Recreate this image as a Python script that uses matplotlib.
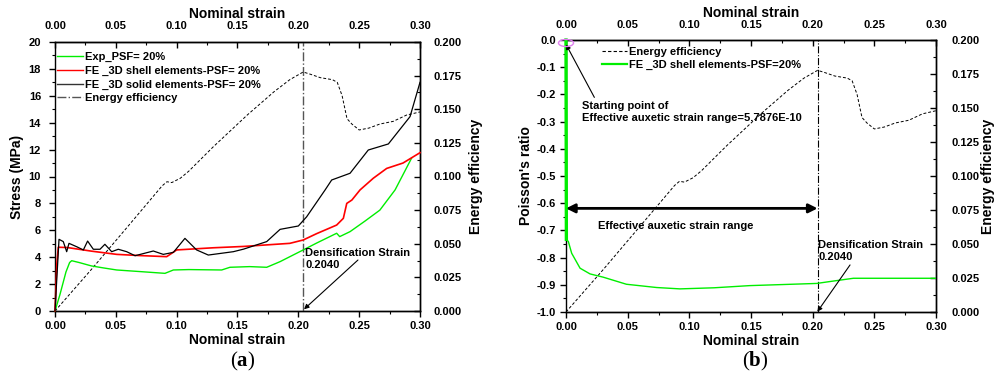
import numpy as np
import matplotlib
matplotlib.use("Agg")
import matplotlib.pyplot as plt
from matplotlib.patches import Ellipse
from matplotlib.lines import Line2D

plt.rcParams["font.family"] = ["Liberation Sans", "DejaVu Sans"]
plt.rcParams["font.weight"] = "bold"
plt.rcParams["axes.labelweight"] = "bold"
plt.rcParams["mathtext.fontset"] = "custom"
plt.rcParams["mathtext.rm"] = "Liberation Serif"
plt.rcParams["mathtext.bf"] = "Liberation Serif:bold"

# --------------------------------------------------
# data
# --------------------------------------------------
# energy efficiency (same curve in both panels)
ee_strain = [0.000, 0.030, 0.060, 0.088, 0.092, 0.096, 0.103, 0.110, 0.130, 0.158,
             0.180, 0.193, 0.204, 0.210, 0.218, 0.228, 0.232, 0.236, 0.240, 0.244,
             0.250, 0.258, 0.267, 0.278, 0.289, 0.300]
ee_value = [0.000, 0.031, 0.063, 0.093, 0.0961, 0.0955, 0.0987, 0.104, 0.122, 0.1457,
            0.163, 0.172, 0.1777, 0.176, 0.1735, 0.172, 0.170, 0.160, 0.143, 0.139,
            0.1346, 0.136, 0.139, 0.141, 0.1457, 0.148]

# (a) experiment
exp_strain = [0.000, 0.004, 0.009, 0.012, 0.0137, 0.020, 0.030, 0.040, 0.0507, 0.070,
              0.0904, 0.0973, 0.110, 0.137, 0.1438, 0.160, 0.174, 0.185, 0.204, 0.215,
              0.2315, 0.234, 0.2425, 0.255, 0.267, 0.2795, 0.293]
exp_stress = [0.0, 1.2, 2.9, 3.6, 3.74, 3.6, 3.35, 3.2, 3.05, 2.93,
              2.80, 3.05, 3.08, 3.05, 3.25, 3.30, 3.25, 3.67, 4.54, 5.05,
              5.78, 5.53, 5.9, 6.7, 7.5, 9.0, 11.35]

# (a) FE 3D shell
shell_strain = [0.000, 0.0015, 0.0027, 0.010, 0.030, 0.0507, 0.070, 0.0918, 0.100, 0.130,
                0.155, 0.193, 0.204, 0.215, 0.2315, 0.237, 0.2398, 0.244, 0.2507, 0.2616,
                0.2726, 0.286, 0.300]
shell_stress = [0.0, 3.5, 4.74, 4.72, 4.45, 4.21, 4.12, 4.04, 4.54, 4.70,
                4.80, 5.03, 5.28, 5.75, 6.39, 6.89, 8.0, 8.25, 9.0, 9.87,
                10.6, 11.0, 11.77]

# (a) FE 3D solid
solid_strain = [0.000, 0.0033, 0.0068, 0.0096, 0.0115, 0.0178, 0.0233, 0.0268, 0.0315, 0.037,
                0.041, 0.0466, 0.052, 0.0589, 0.0658, 0.0808, 0.089, 0.0973, 0.1068, 0.1164,
                0.126, 0.1466, 0.155, 0.174, 0.185, 0.200, 0.2068, 0.222, 0.2274, 0.2425,
                0.2575, 0.274, 0.2918, 0.300]
solid_stress = [0.0, 5.33, 5.16, 4.41, 5.03, 4.78, 4.54, 5.2, 4.59, 4.59,
                4.96, 4.41, 4.59, 4.41, 4.11, 4.46, 4.21, 4.36, 5.40, 4.54,
                4.16, 4.41, 4.60, 5.16, 6.07, 6.32, 7.0, 9.0, 9.74, 10.24,
                11.97, 12.42, 14.45, 17.0]

# (b) Poisson's ratio, FE 3D shell
pr_strain = [0.000, 0.0003, 0.0019, 0.0046, 0.0114, 0.0195, 0.0302, 0.049, 0.0735, 0.0924,
             0.120, 0.149, 0.2033, 0.214, 0.233, 0.300]
pr_value = [0.000, -0.733, -0.741, -0.784, -0.839, -0.86, -0.872, -0.898, -0.91, -0.915,
            -0.911, -0.903, -0.895, -0.888, -0.876, -0.876]

dens_strain = 0.204
auxetic_start = 5.7876e-10

strain_ticks = [0.00, 0.05, 0.10, 0.15, 0.20, 0.25, 0.30]
ee_ticks = [0.000, 0.025, 0.050, 0.075, 0.100, 0.125, 0.150, 0.175, 0.200]
stress_ticks = [0, 2, 4, 6, 8, 10, 12, 14, 16, 18, 20]
pr_ticks = [-1.0, -0.9, -0.8, -0.7, -0.6, -0.5, -0.4, -0.3, -0.2, -0.1, 0.0]
pr_labels = ["-1.0", "-0.9", "-0.8", "-0.7", "-0.6", "-0.5", "-0.4", "-0.3", "-0.2", "-0.1", "0.0"]

GREEN = "#00ee00"
TICK_FS = 8
LAB_FS = 10
TXT_FS = 8


def style_axes(ax, ax_r, left_pad, top_pad, right_pad):
    for a in (ax, ax_r):
        for s in a.spines.values():
            s.set_linewidth(1.0)
    # keep the left spine on the main axes so curves can sit on top of it
    ax_r.spines["left"].set_visible(False)
    ax.set_xlim(0, 0.30)
    ax.set_xticks(strain_ticks)
    ax.set_xticks(np.arange(0.025, 0.30, 0.05), minor=True)
    ax.tick_params(axis="x", which="both", direction="out", labelsize=TICK_FS, pad=3.5)
    ax.tick_params(axis="y", which="both", direction="out", labelsize=TICK_FS, pad=left_pad)
    ax.tick_params(which="major", length=4, width=1)
    ax.tick_params(which="minor", length=2.5, width=0.8)
    ax.set_xlabel("Nominal strain", fontsize=LAB_FS, labelpad=1)

    top = ax.secondary_xaxis("top")
    top.set_xticks(strain_ticks)
    top.set_xticks(np.arange(0.025, 0.30, 0.05), minor=True)
    top.tick_params(which="both", direction="in", labelsize=TICK_FS, pad=top_pad)
    top.tick_params(which="major", length=4, width=1)
    top.tick_params(which="minor", length=2.5, width=0.8)
    top.set_xlabel("Nominal strain", fontsize=LAB_FS, labelpad=2)
    top.xaxis.set_major_formatter(plt.FormatStrFormatter("%.2f"))

    ax_r.set_ylim(0, 0.2)
    ax_r.set_yticks(ee_ticks)
    ax_r.set_yticks(np.arange(0.0125, 0.2, 0.025), minor=True)
    ax_r.tick_params(which="both", direction="in", labelsize=TICK_FS, pad=right_pad)
    ax_r.tick_params(which="major", length=4, width=1)
    ax_r.tick_params(which="minor", length=2.5, width=0.8)
    ax_r.yaxis.set_major_formatter(plt.FormatStrFormatter("%.3f"))
    ax.xaxis.set_major_formatter(plt.FormatStrFormatter("%.2f"))


fig = plt.figure(figsize=(9.95, 3.79), dpi=100)

# --------------------------------------------------
# (a) stress vs strain
# --------------------------------------------------
ax = fig.add_axes([55 / 995, 1 - 311 / 379, 365 / 995, 269 / 379])
ax2 = ax.twinx()
ax.set_zorder(ax2.get_zorder() + 1)
ax.patch.set_visible(False)
style_axes(ax, ax2, left_pad=6, top_pad=8, right_pad=10)

ax2.plot(ee_strain, ee_value, color="black", lw=0.7, ls=(0, (3, 2)))
ax.plot(exp_strain, exp_stress, color=GREEN, lw=1.0, zorder=3, clip_on=False)
ax.plot(shell_strain, shell_stress, color="red", lw=1.2, zorder=3, clip_on=False)
ax.plot(solid_strain, solid_stress, color="black", lw=0.9, zorder=3, clip_on=False)
ax.axvline(dens_strain, color="#555555", lw=1.0, ls="-.")

ax.set_ylim(0, 20)
ax.set_yticks(stress_ticks)
ax.set_yticks(range(1, 20, 2), minor=True)
ax.set_ylabel("Stress (MPa)", fontsize=LAB_FS, labelpad=3)
ax2.set_ylabel("Energy efficiency", fontsize=LAB_FS, labelpad=5)

handles_a = [
    Line2D([], [], color=GREEN, lw=1.0),
    Line2D([], [], color="red", lw=1.0),
    Line2D([], [], color="#333333", lw=1.0),
    Line2D([], [], color="#555555", lw=1.0, ls="-."),
]
labels_a = ["Exp_PSF= 20%", "FE _3D shell elements-PSF= 20%",
            "FE _3D solid elements-PSF= 20%", "Energy efficiency"]
ax.legend(handles_a, labels_a, loc="upper left", bbox_to_anchor=(0.005, 0.962),
          frameon=False, fontsize=TXT_FS, handlelength=2.4, handletextpad=0.15,
          labelspacing=0.32, borderpad=0, borderaxespad=0)

ax.text(0.2055, 4.7, "Densification Strain\n0.2040", fontsize=TXT_FS, va="top",
        ha="left", linespacing=1.3)
ax.annotate("", xy=(0.2047, 0.13), xytext=(0.249, 3.79),
            arrowprops=dict(arrowstyle="-|>", color="black", lw=0.8,
                            mutation_scale=7, shrinkA=0, shrinkB=0))

# --------------------------------------------------
# (b) Poisson's ratio vs strain
# --------------------------------------------------
bx = fig.add_axes([566 / 995, 1 - 312 / 379, 370 / 995, 272 / 379])
bx2 = bx.twinx()
bx.set_zorder(bx2.get_zorder() + 1)
bx.patch.set_visible(False)
style_axes(bx, bx2, left_pad=3, top_pad=7, right_pad=11)

bx2.plot(ee_strain, ee_value, color="black", lw=0.7, ls=(0, (3, 2)))
bx.plot(pr_strain, pr_value, color=GREEN, lw=1.0, zorder=3)
bx.plot(pr_strain[:2], pr_value[:2], color=GREEN, lw=2.4, zorder=3, clip_on=False)
bx.axvline(dens_strain, color="black", lw=0.8, ls="-.")

bx.set_ylim(-1.0, 0.0)
bx.set_yticks(pr_ticks)
bx.set_yticklabels(pr_labels)
bx.set_yticks(np.arange(-0.95, 0.0, 0.1), minor=True)
bx.set_ylabel("Poisson's ratio", fontsize=LAB_FS, labelpad=3)
bx2.set_ylabel("Energy efficiency", fontsize=LAB_FS, labelpad=1)

handles_b = [
    Line2D([], [], color="black", lw=0.8, ls=(0, (3, 2))),
    Line2D([], [], color=GREEN, lw=1.6),
]
labels_b = ["Energy efficiency", "FE _3D shell elements-PSF=20%"]
bx.legend(handles_b, labels_b, loc="upper left", bbox_to_anchor=(0.0965, 0.975),
          frameon=False, fontsize=TXT_FS, handlelength=2.3, handletextpad=0.15,
          labelspacing=0.3, borderpad=0, borderaxespad=0)

# auxetic range arrow
bx.annotate("", xy=(auxetic_start, -0.619), xytext=(dens_strain, -0.619),
            arrowprops=dict(arrowstyle="<|-|>", color="black", lw=2.0,
                            mutation_scale=13, shrinkA=0, shrinkB=0))
bx.text(0.026, -0.682, "Effective auxetic strain range", fontsize=TXT_FS,
        ha="left", va="center")

# starting point
bx.add_patch(Ellipse((0.0, -0.011), 0.0122, 0.026, fill=False,
                     edgecolor="#e080f0", lw=1.0, clip_on=False, zorder=4))
bx.text(0.0127, -0.224, "Starting point of\nEffective auxetic strain range=5.7876E-10",
        fontsize=TXT_FS, ha="left", va="top", linespacing=1.3)
bx.annotate("", xy=(0.0, -0.016), xytext=(0.023, -0.211),
            arrowprops=dict(arrowstyle="-|>", color="black", lw=0.8,
                            mutation_scale=7, shrinkA=0, shrinkB=0))

bx.text(0.2046, -0.735, "Densification Strain\n0.2040", fontsize=TXT_FS, va="top",
        ha="left", linespacing=1.3)
bx.annotate("", xy=(0.2038, -0.999), xytext=(0.2303, -0.827),
            arrowprops=dict(arrowstyle="-|>", color="black", lw=0.8,
                            mutation_scale=7, shrinkA=0, shrinkB=0))

# captions
fig.text(243 / 995, 1 - 361 / 379, r"($\mathbf{a}$)", fontsize=15, ha="center",
         va="center", family="Liberation Serif", weight="normal")
fig.text(755 / 995, 1 - 361 / 379, r"($\mathbf{b}$)", fontsize=15, ha="center",
         va="center", family="Liberation Serif", weight="normal")

fig.savefig("out.png", dpi=100)
